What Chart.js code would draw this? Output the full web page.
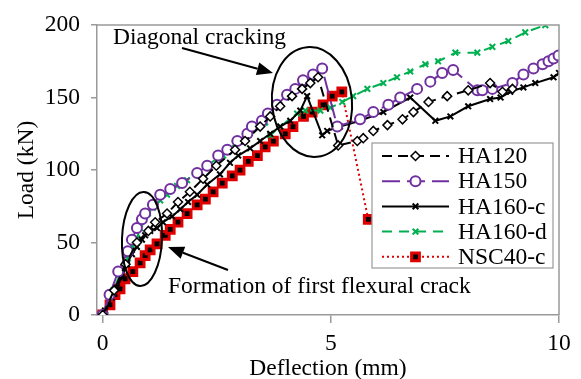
<!DOCTYPE html>
<html lang="en">
<head>
  <meta charset="UTF-8">
  <title>Load - Deflection</title>
  <script src="https://cdn.jsdelivr.net/npm/chart.js"></script>
  <style>
    html, body {
      margin: 0;
      padding: 0;
      background: #fff;
    }
    #chart {
      display: block;
    }
  </style>
</head>
<body>
<canvas id="chart" width="581" height="379"></canvas>

<script>
  // values (deflection in mm, load in kN)
  const ha120X = [0, 0.25, 0.5, 0.75, 1.0, 1.15, 1.41, 1.65, 1.91, 2.2, 2.49, 2.9, 3.12, 3.45, 3.67, 3.89, 4.15, 4.37, 4.55, 4.72, 5.16, 5.58, 5.71, 5.93, 6.24, 6.57, 6.81, 7.14, 7.55, 8.01, 8.49, 8.76, 8.98];
  const ha120Y = [0, 17, 35, 50, 58, 64, 70, 78, 85, 94, 103, 114, 120, 130, 137, 144, 151, 156, 160, 164, 117, 120, 122, 127, 131, 135, 140, 147, 151, 155, 160, 154, 156];

  const ha150X = [0, 0.15, 0.34, 0.55, 0.64, 0.75, 0.86, 0.93, 1.1, 1.26, 1.48, 1.74, 2.07, 2.29, 2.53, 2.73, 2.95, 3.17, 3.27, 3.49, 3.62, 3.82, 4.04, 4.22, 4.39, 4.61, 4.81, 5.14, 5.64, 5.93, 6.26, 6.52, 6.89, 7.18, 7.44, 7.68, 8.21, 8.32, 8.54, 8.98, 9.22, 9.44, 9.64, 9.77, 9.88, 9.99];
  const ha150Y = [0, 14, 30, 44, 52, 60, 66, 70, 76, 83, 87, 91, 98, 103, 110, 114, 120, 125, 130, 134, 139, 145, 152, 156, 162, 166, 170, 130, 135, 140, 145, 150, 156, 161, 167, 169, 155, 155, 156, 160, 166, 170, 173, 175, 177, 179];

  const ha160cX = [0, 0.05, 0.2, 0.31, 0.42, 0.53, 0.64, 0.75, 0.86, 0.93, 1.04, 1.19, 1.32, 1.52, 1.7, 1.87, 2.07, 2.29, 2.57, 2.79, 2.97, 3.23, 3.45, 3.67, 3.89, 4.11, 4.33, 4.48, 4.81, 4.92, 5.2, 5.64, 6.15, 6.74, 7.29, 7.62, 8.01, 8.49, 8.72, 8.93, 9.22, 9.48, 9.88, 10];
  const ha160cY = [0, 3, 12, 19, 26, 35, 42, 47, 52, 55, 58, 60, 64, 68, 73, 78, 83, 90, 97, 105, 110, 115, 120, 125, 130, 134, 141, 151, 124, 127, 130, 134, 140, 150, 134, 137, 144, 149, 150, 154, 157, 160, 164, 167];

  const ha160dX = [0, 0.23, 0.38, 0.55, 0.66, 0.75, 0.82, 0.88, 0.99, 1.1, 1.26, 1.41, 1.63, 1.85, 2.07, 2.29, 2.51, 2.64, 2.9, 3.23, 3.56, 3.67, 3.89, 4.26, 4.44, 4.77, 4.99, 5.25, 5.49, 5.8, 6.15, 6.45, 6.74, 7.07, 7.35, 7.73, 8.21, 8.54, 8.89, 9.26, 9.7];
  const ha160dY = [0, 17, 28, 39, 47, 53, 60, 66, 70, 74, 79, 83, 89, 93, 99, 103, 108, 110, 118, 127, 133, 124, 130, 139, 141, 141, 143, 147, 151, 156, 160, 164, 168, 173, 175, 181, 181, 185, 189, 195, 200];

  const nsc40cX = [0, 0.16, 0.27, 0.38, 0.49, 0.66, 0.82, 0.93, 1.04, 1.19, 1.37, 1.48, 1.65, 1.85, 2.07, 2.25, 2.42, 2.62, 2.84, 3.01, 3.19, 3.39, 3.56, 3.74, 4.0, 4.17, 4.4, 4.59, 4.83, 5.03, 5.24, 5.82];
  const nsc40cY = [0, 7, 14, 18, 25, 30, 36, 41, 45, 49, 55, 59, 64, 70, 76, 80, 85, 91, 96, 100, 106, 110, 116, 120, 125, 130, 137, 140, 145, 151, 154, 66];

  const xTickValues = [0, 5, 10];

  const FONT = { family: '"Liberation Serif", "Times New Roman", serif', size: 23.5 };
  const AXIS_GREY = '#999';

  function pts(xs, ys) {
    return xs.map((x, i) => ({ x: x, y: ys[i] }));
  }

  // small marker drawer for the legend
  function drawMarker(ctx, style, r, x, y) {
    ctx.beginPath();
    if (style === 'circle') {
      ctx.arc(x, y, r, 0, Math.PI * 2);
      ctx.fill();
      ctx.stroke();
    } else if (style === 'rectRot') {
      ctx.moveTo(x, y - r);
      ctx.lineTo(x + r, y);
      ctx.lineTo(x, y + r);
      ctx.lineTo(x - r, y);
      ctx.closePath();
      ctx.fill();
      ctx.stroke();
    } else if (style === 'rect') {
      const s = r * Math.SQRT1_2;
      ctx.rect(x - s, y - s, 2 * s, 2 * s);
      ctx.fill();
      ctx.stroke();
    } else if (style === 'crossRot') {
      const s = r * Math.SQRT1_2;
      ctx.moveTo(x - s, y - s);
      ctx.lineTo(x + s, y + s);
      ctx.moveTo(x - s, y + s);
      ctx.lineTo(x + s, y - s);
      ctx.stroke();
    }
  }

  const framePlugin = {
    id: 'frame',
    afterDatasetsDraw(chart) {
      const { ctx, chartArea: a } = chart;
      ctx.save();
      ctx.strokeStyle = AXIS_GREY;
      ctx.lineWidth = 1.5;
      ctx.beginPath();
      ctx.moveTo(a.left, a.top);
      ctx.lineTo(a.right, a.top);
      ctx.lineTo(a.right, a.bottom);
      ctx.stroke();
      ctx.restore();
    }
  };

  const legendPlugin = {
    id: 'boxLegend',
    afterDraw(chart) {
      const ctx = chart.ctx;
      const box = { x: 372, y: 143, w: 181, h: 125 };
      ctx.save();
      ctx.fillStyle = '#fff';
      ctx.fillRect(box.x, box.y, box.w, box.h);
      ctx.strokeStyle = AXIS_GREY;
      ctx.lineWidth = 1.2;
      ctx.strokeRect(box.x, box.y, box.w, box.h);
      ctx.font = FONT.size + 'px ' + FONT.family;
      ctx.textBaseline = 'middle';
      ctx.textAlign = 'left';
      chart.data.datasets.forEach((ds, i) => {
        const y = 156 + i * 25.2;
        ctx.strokeStyle = ds.borderColor;
        ctx.lineWidth = ds.borderWidth;
        ctx.setLineDash(ds.borderDash || []);
        ctx.beginPath();
        ctx.moveTo(382, y);
        ctx.lineTo(449, y);
        ctx.stroke();
        ctx.setLineDash([]);
        ctx.fillStyle = ds.pointBackgroundColor;
        ctx.strokeStyle = ds.pointBorderColor;
        ctx.lineWidth = ds.pointBorderWidth;
        drawMarker(ctx, ds.pointStyle, ds.pointRadius, 415.5, y);
        ctx.fillStyle = '#000';
        ctx.fillText(ds.label, 458, y + 1);
      });
      ctx.restore();
    }
  };

  function arrow(ctx, x1, y1, x2, y2) {
    const ang = Math.atan2(y2 - y1, x2 - x1);
    const len = 16, half = 6.5;
    const bx = x2 - len * Math.cos(ang), by = y2 - len * Math.sin(ang);
    ctx.beginPath();
    ctx.moveTo(x1, y1);
    ctx.lineTo(bx, by);
    ctx.stroke();
    ctx.beginPath();
    ctx.moveTo(x2, y2);
    ctx.lineTo(bx + half * Math.sin(ang), by - half * Math.cos(ang));
    ctx.lineTo(bx - half * Math.sin(ang), by + half * Math.cos(ang));
    ctx.closePath();
    ctx.fill();
  }

  const notesPlugin = {
    id: 'notes',
    afterDraw(chart) {
      const ctx = chart.ctx;
      ctx.save();
      ctx.strokeStyle = '#000';
      ctx.fillStyle = '#000';
      ctx.lineWidth = 2;
      // ellipses around the two events
      ctx.beginPath();
      ctx.ellipse(312, 102, 40, 55, -0.09, 0, Math.PI * 2);
      ctx.stroke();
      ctx.beginPath();
      ctx.ellipse(142, 239, 20, 47, 0.04, 0, Math.PI * 2);
      ctx.stroke();
      // arrows
      arrow(ctx, 182, 48, 273, 73);
      arrow(ctx, 228, 270, 168, 247);
      // texts
      ctx.font = FONT.size + 'px ' + FONT.family;
      ctx.textBaseline = 'alphabetic';
      ctx.textAlign = 'left';
      ctx.fillText('Diagonal cracking', 113, 44);
      ctx.fillText('Formation of first flexural crack', 168, 293);
      ctx.restore();
    }
  };

  new Chart(document.getElementById('chart').getContext('2d'), {
    type: 'line',
    data: {
      datasets: [
        {
          label: 'HA120', data: pts(ha120X, ha120Y),
          borderColor: '#000', borderWidth: 2, borderDash: [10, 6],
          pointStyle: 'rectRot', pointRadius: 4.5, pointBorderWidth: 1.5,
          pointBackgroundColor: '#fff', pointBorderColor: '#000'
        },
        {
          label: 'HA150', data: pts(ha150X, ha150Y),
          borderColor: '#7030A0', borderWidth: 2, borderDash: [18, 7],
          pointStyle: 'circle', pointRadius: 5, pointBorderWidth: 2,
          pointBackgroundColor: '#fff', pointBorderColor: '#7030A0'
        },
        {
          label: 'HA160-c', data: pts(ha160cX, ha160cY),
          borderColor: '#000', borderWidth: 2, borderDash: [],
          pointStyle: 'crossRot', pointRadius: 4, pointBorderWidth: 2,
          pointBackgroundColor: '#000', pointBorderColor: '#000'
        },
        {
          label: 'HA160-d', data: pts(ha160dX, ha160dY),
          borderColor: '#00B050', borderWidth: 2, borderDash: [10, 7],
          pointStyle: 'crossRot', pointRadius: 4, pointBorderWidth: 2,
          pointBackgroundColor: '#00B050', pointBorderColor: '#00B050'
        },
        {
          label: 'NSC40-c', data: pts(nsc40cX, nsc40cY),
          borderColor: '#E00000', borderWidth: 2, borderDash: [2, 3],
          pointStyle: 'rect', pointRadius: 5.5, pointBorderWidth: 3,
          pointBackgroundColor: '#000', pointBorderColor: '#E00000'
        }
      ]
    },
    options: {
      responsive: false,
      animation: false,
      layout: { padding: { top: 19, right: 22, left: 0, bottom: 0 } },
      plugins: {
        legend: { display: false },
        tooltip: { enabled: false }
      },
      elements: { line: { tension: 0 } },
      scales: {
        x: {
          type: 'linear',
          min: -0.125,
          max: 10,
          afterBuildTicks: s => { s.ticks = xTickValues.map(v => ({ value: v })); },
          afterFit: s => { s.height = 64; },
          grid: { drawOnChartArea: false, tickLength: 8, color: AXIS_GREY, lineWidth: 1.5 },
          border: { color: AXIS_GREY, width: 1.5 },
          ticks: { font: FONT, color: '#000', padding: 7, maxRotation: 0, autoSkip: false },
          title: { display: true, text: 'Deflection (mm)', font: FONT, color: '#000', padding: { top: 0, bottom: -4 } }
        },
        y: {
          min: 0,
          max: 200,
          afterFit: s => { s.width = 97; },
          grid: { drawOnChartArea: false, tickLength: 6, color: AXIS_GREY, lineWidth: 1.5 },
          border: { color: AXIS_GREY, width: 1.5 },
          ticks: { stepSize: 50, font: FONT, color: '#000', padding: 11 },
          title: { display: true, text: 'Load (kN)', font: FONT, color: '#000', padding: { top: 13, bottom: 0 } }
        }
      }
    },
    plugins: [framePlugin, legendPlugin, notesPlugin]
  });
</script>
</body>
</html>
